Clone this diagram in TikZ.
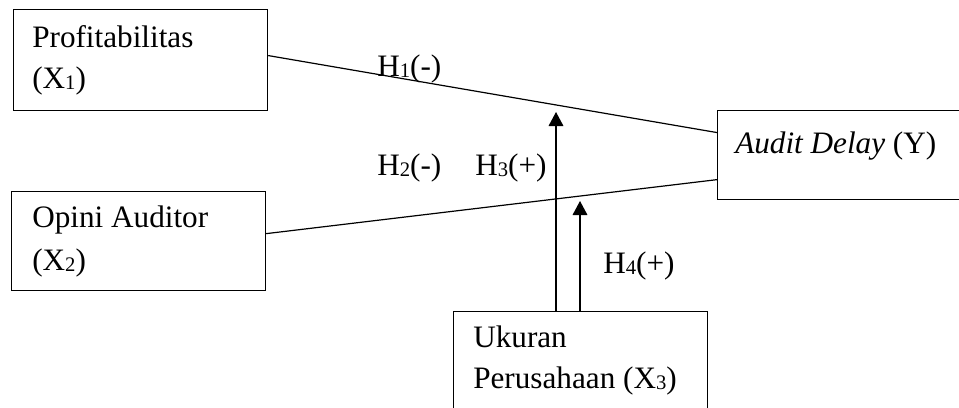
\documentclass[tikz,border=0pt]{standalone}
\usepackage{fontspec}
\setmainfont{Liberation Serif}
\usetikzlibrary{arrows.meta,calc}
\newcommand{\sbs}[1]{\raisebox{-0.06em}{\fontsize{15.5}{15.5}\selectfont #1}}
\begin{document}
\begin{tikzpicture}[x=0.75pt,y=-0.75pt,
  box/.style={draw,line width=0.9pt,rectangle,inner sep=0pt,anchor=north west},
  txt/.style={anchor=base west,inner sep=0pt,font=\fontsize{23.4}{28}\selectfont},
  conn/.style={line width=0.9pt},
  arr/.style={line width=0.9pt,-{Triangle[width=11pt,length=10.5pt]}}]
\useasboundingbox (0,0) rectangle (959,407);
% boxes
\node[box,minimum width=254*0.75pt,minimum height=101*0.75pt] (b1) at (13,9) {};
\node[box,minimum width=254*0.75pt,minimum height=99*0.75pt] (b2) at (11,191) {};
\node[box,minimum width=260*0.75pt,minimum height=89*0.75pt] (yb) at (717,110) {};
\node[box,minimum width=254*0.75pt,minimum height=110*0.75pt] (x3) at (453,311) {};
% texts
\node[txt] (t1a) at (32,47) {Profitabilitas};
\node[txt] (t1b) at (32,88) {(X\sbs{1})};
\node[txt] (t2a) at (32,227) {Opini Auditor};
\node[txt] (t2b) at (32,270) {(X\sbs{2})};
\node[txt] (ty) at (735,153) {\textit{Audit Delay} (Y)};
\node[txt] (t3a) at (473,347) {Ukuran};
\node[txt] (t3b) at (473,388) {Perusahaan (X\sbs{3})};
\node[txt] (h1) at (377,76) {H\sbs{1}(-)};
\node[txt] (h2) at (377,175) {H\sbs{2}(-)};
\node[txt] (h3) at (475,175) {H\sbs{3}(+)};
\node[txt] (h4) at (603,273) {H\sbs{4}(+)};
% connectors
\draw[conn] ([yshift=3.4pt]b1.east) -- ([yshift=16.9pt]yb.west);
\draw[conn] ([yshift=5.6pt]b2.east) -- ([yshift=-18.4pt]yb.west);
\coordinate (tip3) at (556,112);
\coordinate (tip4) at (580,201);
\draw[arr] (x3.north -| tip3) -- (tip3);
\draw[arr] (x3.north -| tip4) -- (tip4);
\end{tikzpicture}
\end{document}
